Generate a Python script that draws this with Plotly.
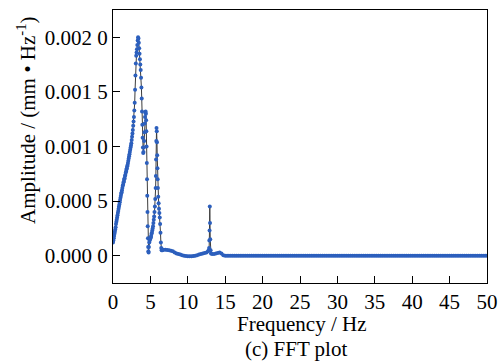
import plotly.graph_objects as go

# Rising flank below the first resonance (Hz, mm/Hz)
freq_rise = [0.00, 0.05, 0.10, 0.15, 0.20, 0.25, 0.30, 0.35, 0.40, 0.45, 0.50, 0.55,
             0.60, 0.65, 0.70, 0.75, 0.80, 0.85, 0.90, 0.95, 1.00, 1.05, 1.10, 1.15,
             1.20, 1.25, 1.30, 1.35, 1.40, 1.45, 1.50, 1.55, 1.60, 1.65, 1.70, 1.75,
             1.80, 1.85, 1.90, 1.95, 2.00, 2.05, 2.10, 2.15, 2.20, 2.25, 2.30, 2.35,
             2.40, 2.45, 2.50, 2.55, 2.60, 2.65, 2.70, 2.75, 2.80]
amp_rise = [0.00012, 0.00014, 0.00016, 0.00018, 0.00020, 0.00022, 0.00024, 0.00026,
            0.00029, 0.00031, 0.00033, 0.00035, 0.00037, 0.00039, 0.00041, 0.00043,
            0.00045, 0.00047, 0.00049, 0.00051, 0.00053, 0.00055, 0.00057, 0.00058,
            0.00060, 0.00062, 0.00064, 0.00065, 0.00067, 0.00068, 0.00070, 0.00071,
            0.00073, 0.00074, 0.00076, 0.00077, 0.00079, 0.00080, 0.00082, 0.00083,
            0.00085, 0.00087, 0.00089, 0.00091, 0.00093, 0.00095, 0.00097, 0.00099,
            0.00101, 0.00103, 0.00106, 0.00109, 0.00112, 0.00115, 0.00119, 0.00123,
            0.00127]

# Resonance peaks at about 3.4, 4.4 and 5.8 Hz
freq_peaks = [2.85, 2.9, 2.95, 3.0, 3.05, 3.1, 3.15, 3.2, 3.25, 3.3, 3.35, 3.4, 3.45,
              3.5, 3.55, 3.6, 3.65, 3.7, 3.75, 3.8, 3.84, 3.88, 3.92, 3.96, 4.0, 4.04,
              4.08, 4.12, 4.16, 4.2, 4.24, 4.28, 4.32, 4.36, 4.4, 4.43, 4.46, 4.49,
              4.52, 4.55, 4.58, 4.61, 4.64, 4.67, 4.7, 4.73, 4.76, 4.8, 4.85, 4.9,
              4.95, 5.0, 5.05, 5.1, 5.15, 5.2, 5.25, 5.3, 5.35, 5.4, 5.45, 5.5, 5.55,
              5.6, 5.65, 5.7, 5.73, 5.76, 5.79, 5.82, 5.85, 5.88, 5.91, 5.94, 5.97,
              6.0, 6.05, 6.1, 6.15, 6.2, 6.25, 6.3, 6.35, 6.4, 6.45, 6.5]
amp_peaks = [0.00133, 0.00140, 0.00152, 0.00165, 0.00176, 0.00183, 0.00186, 0.00189,
             0.00193, 0.00197, 0.00200, 0.00199, 0.00195, 0.00190, 0.00185, 0.00180,
             0.00175, 0.00170, 0.00163, 0.00154, 0.00144, 0.00132, 0.00120, 0.00108,
             0.00099, 0.00094, 0.00095, 0.00099, 0.00105, 0.00113, 0.00121, 0.00127,
             0.00131, 0.00132, 0.00130, 0.00124, 0.00114, 0.00100, 0.00085, 0.00070,
             0.00055, 0.00040, 0.00027, 0.00016, 0.00008, 0.00004, 0.00003, 0.00008,
             0.00012, 0.00014, 0.00015, 0.00016, 0.00017, 0.00018, 0.00020, 0.00021,
             0.00023, 0.00025, 0.00027, 0.00030, 0.00033, 0.00036, 0.00040, 0.00045,
             0.00052, 0.00062, 0.00073, 0.00088, 0.00105, 0.00117, 0.00114, 0.00104,
             0.00092, 0.00080, 0.00070, 0.00062, 0.00054, 0.00048, 0.00043, 0.00039,
             0.00035, 0.00029, 0.00021, 0.00012, 0.00007, 0.00005]

# Residual response and the 13 Hz spike
freq_mid = [6.6, 6.75, 7.0, 7.25, 7.5, 7.75, 8.0, 8.25, 8.5, 8.75, 9.0, 9.25, 9.5,
            9.75, 10.0, 10.25, 10.5, 10.75, 11.0, 11.25, 11.5, 11.75, 12.0, 12.25,
            12.5, 12.7, 12.8, 12.85, 12.88, 12.91, 12.94, 12.97, 13.0, 13.05, 13.1,
            13.25, 13.5, 13.75, 14.0, 14.25, 14.5, 14.75, 15.0]
amp_mid = [0.00005, 0.000055, 0.000055, 0.000052, 0.00005, 0.000045, 0.00004,
           0.00003, 0.00002, 0.000015, 0.00001, 0.000005, 0.0, -0.000003, -0.000005,
           -0.000006, -0.000005, -0.000003, 0.0, 0.000005, 0.00001, 0.000015, 0.00002,
           0.000025, 0.00003, 0.00004, 0.00005, 0.00007, 0.00014, 0.00023, 0.00045,
           0.00030, 0.00015, 0.00005, 0.00002, 0.000015, 0.000015, 0.00002, 0.000025,
           0.00003, 0.00002, 0.000005, 0.0]

# Flat tail up to 50 Hz
freq_tail = [15.25, 15.5, 15.75, 16.0, 16.25, 16.5, 16.75, 17.0, 17.25, 17.5, 17.75,
             18.0, 18.25, 18.5, 18.75, 19.0, 19.25, 19.5, 19.75, 20.0, 20.25, 20.5,
             20.75, 21.0, 21.25, 21.5, 21.75, 22.0, 22.25, 22.5, 22.75, 23.0, 23.25,
             23.5, 23.75, 24.0, 24.25, 24.5, 24.75, 25.0, 25.25, 25.5, 25.75, 26.0,
             26.25, 26.5, 26.75, 27.0, 27.25, 27.5, 27.75, 28.0, 28.25, 28.5, 28.75,
             29.0, 29.25, 29.5, 29.75, 30.0, 30.25, 30.5, 30.75, 31.0, 31.25, 31.5,
             31.75, 32.0, 32.25, 32.5, 32.75, 33.0, 33.25, 33.5, 33.75, 34.0, 34.25,
             34.5, 34.75, 35.0, 35.25, 35.5, 35.75, 36.0, 36.25, 36.5, 36.75, 37.0,
             37.25, 37.5, 37.75, 38.0, 38.25, 38.5, 38.75, 39.0, 39.25, 39.5, 39.75,
             40.0, 40.25, 40.5, 40.75, 41.0, 41.25, 41.5, 41.75, 42.0, 42.25, 42.5,
             42.75, 43.0, 43.25, 43.5, 43.75, 44.0, 44.25, 44.5, 44.75, 45.0, 45.25,
             45.5, 45.75, 46.0, 46.25, 46.5, 46.75, 47.0, 47.25, 47.5, 47.75, 48.0,
             48.25, 48.5, 48.75, 49.0, 49.25, 49.5, 49.75, 50.0]
amp_tail = [0.0, 0.0, 0.0, 0.0, 0.0, 0.0, 0.0, 0.0, 0.0, 0.0, 0.0,
            0.0, 0.0, 0.0, 0.0, 0.0, 0.0, 0.0, 0.0, 0.0, 0.0, 0.0,
            0.0, 0.0, 0.0, 0.0, 0.0, 0.0, 0.0, 0.0, 0.0, 0.0, 0.0,
            0.0, 0.0, 0.0, 0.0, 0.0, 0.0, 0.0, 0.0, 0.0, 0.0, 0.0,
            0.0, 0.0, 0.0, 0.0, 0.0, 0.0, 0.0, 0.0, 0.0, 0.0, 0.0,
            0.0, 0.0, 0.0, 0.0, 0.0, 0.0, 0.0, 0.0, 0.0, 0.0, 0.0,
            0.0, 0.0, 0.0, 0.0, 0.0, 0.0, 0.0, 0.0, 0.0, 0.0, 0.0,
            0.0, 0.0, 0.0, 0.0, 0.0, 0.0, 0.0, 0.0, 0.0, 0.0, 0.0,
            0.0, 0.0, 0.0, 0.0, 0.0, 0.0, 0.0, 0.0, 0.0, 0.0, 0.0,
            0.0, 0.0, 0.0, 0.0, 0.0, 0.0, 0.0, 0.0, 0.0, 0.0, 0.0,
            0.0, 0.0, 0.0, 0.0, 0.0, 0.0, 0.0, 0.0, 0.0, 0.0, 0.0,
            0.0, 0.0, 0.0, 0.0, 0.0, 0.0, 0.0, 0.0, 0.0, 0.0, 0.0,
            0.0, 0.0, 0.0, 0.0, 0.0, 0.0, 0.0, 0.0, 0.0, 0.0]

x_ticks = [0, 5, 10, 15, 20, 25, 30, 35, 40, 45, 50]
y_ticks = [0.0, 0.0005, 0.001, 0.0015, 0.002]
y_tick_text = ["0.000 0", "0.000 5", "0.001 0", "0.001 5", "0.002 0"]

freq = freq_rise + freq_peaks + freq_mid + freq_tail
amp = amp_rise + amp_peaks + amp_mid + amp_tail

FONT = "Times New Roman"
FS = 21

fig = go.Figure()
fig.add_trace(go.Scatter(
    x=freq, y=amp, mode="lines+markers",
    line=dict(color="#3c3c3c", width=1),
    marker=dict(color="#2c5fbd", size=4, line=dict(width=0)),
    showlegend=False,
))

axis_common = dict(
    ticks="inside", ticklen=7, tickwidth=1.3, tickcolor="black",
    showline=True, linecolor="black", linewidth=1.3, mirror=True,
    showgrid=False, zeroline=False, automargin=False,
    tickfont=dict(family=FONT, size=FS, color="black"),
)

fig.update_layout(
    width=503, height=363,
    margin=dict(l=113, r=16, t=10, b=80),
    paper_bgcolor="white", plot_bgcolor="white",
    font=dict(family=FONT, size=FS, color="black"),
    xaxis=dict(range=[0, 50], tickvals=x_ticks, **axis_common),
    yaxis=dict(
        range=[-0.00025, 0.00225], tickvals=y_ticks, ticktext=y_tick_text,
        **axis_common,
    ),
    annotations=[
        dict(text="Amplitude / (mm \u2022 Hz<sup>-1</sup>)", textangle=-90,
             xref="paper", yref="paper", x=-0.233, y=0.597,
             xanchor="center", yanchor="middle", showarrow=False,
             font=dict(family=FONT, size=FS)),
        dict(text="Frequency / Hz", xref="paper", yref="paper",
             x=0.503, y=-0.149, xanchor="center", yanchor="middle",
             showarrow=False, font=dict(family=FONT, size=FS)),
        dict(text="(c) FFT plot", xref="paper", yref="paper",
             x=0.49, y=-0.242, xanchor="center", yanchor="middle",
             showarrow=False, font=dict(family=FONT, size=FS)),
    ],
)

fig.write_html("out.html")
